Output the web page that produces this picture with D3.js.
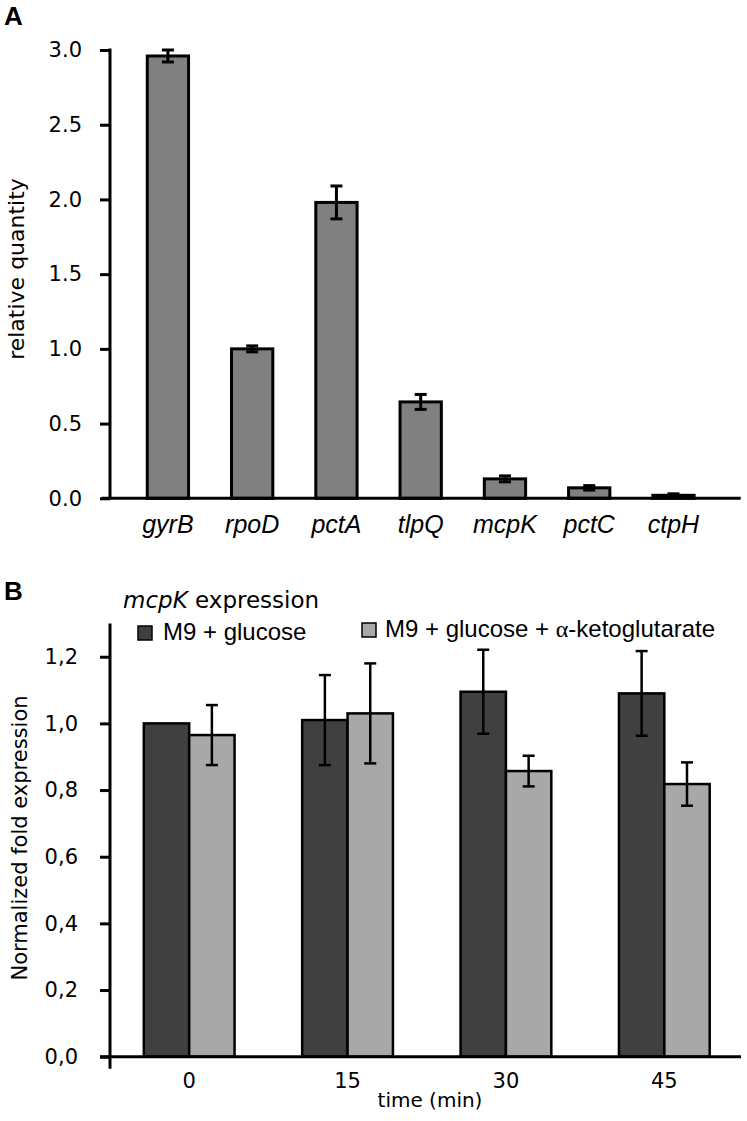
<!DOCTYPE html>
<meta charset="utf-8">
<style>
  body { margin: 0; background: #fff; }
  .tick text { font-family: "DejaVu Sans", sans-serif; font-size: 21px; fill: #000; }
  .tick line { stroke: #000; stroke-width: 3px; }
  .gene { font-family: "Liberation Sans", Arial, sans-serif; font-style: italic; font-size: 25px; }
  .title { font-family: "DejaVu Sans", sans-serif; fill: #000; }
  .legend { font-family: "Liberation Sans", Arial, sans-serif; font-size: 24px; }
  .panel { font-family: "Liberation Sans", Arial, sans-serif; font-weight: bold; font-size: 26px; }
</style>
<body>
<script src="https://cdnjs.cloudflare.com/ajax/libs/d3/7.8.5/d3.min.js"></script>
<script>
// panel A data
var genes = ["gyrB", "rpoD", "pctA", "tlpQ", "mcpK", "pctC", "ctpH"];
var relQuantity = [2.96, 1.00, 1.98, 0.645, 0.13, 0.07, 0.02];
var relQuantityErr = [0.04, 0.02, 0.11, 0.05, 0.02, 0.015, 0.01];
var ticksA = [0, 0.5, 1.0, 1.5, 2.0, 2.5, 3.0];

// panel B data
var times = ["0", "15", "30", "45"];
var seriesNames = ["M9 + glucose", "M9 + glucose + ", "-ketoglutarate"];
var glucose = [1.00, 1.01, 1.095, 1.09];
var glucoseErr = [0, 0.135, 0.126, 0.127];
var glucoseAkg = [0.965, 1.03, 0.857, 0.818];
var glucoseAkgErr = [0.09, 0.15, 0.046, 0.065];
var ticksB = [0, 0.2, 0.4, 0.6, 0.8, 1.0, 1.2];

var width = 747, height = 1121;
var axisX = 110;

var svg = d3.select("body").append("svg")
    .attr("width", width)
    .attr("height", height);

// ---------- Panel A ----------
var xA = d3.scaleBand().domain(genes).range([104.3, 737.1]).padding(0.51);
var yA = d3.scaleLinear().domain([0, 3]).range([498.3, 50]);

var gA = svg.append("g");

gA.selectAll("rect.bar")
    .data(genes)
  .enter().append("rect")
    .attr("class", "bar")
    .attr("x", function(d) { return xA(d); })
    .attr("width", xA.bandwidth())
    .attr("y", function(d, i) { return yA(relQuantity[i]); })
    .attr("height", function(d, i) { return yA(0) - yA(relQuantity[i]); })
    .style("fill", "#808080")
    .style("stroke", "#000")
    .style("stroke-width", 3);

var errA = gA.selectAll("g.err")
    .data(genes)
  .enter().append("g")
    .attr("class", "err")
    .style("stroke", "#000")
    .style("stroke-width", 3);
errA.append("line")
    .attr("x1", function(d) { return xA(d) + xA.bandwidth() / 2; })
    .attr("x2", function(d) { return xA(d) + xA.bandwidth() / 2; })
    .attr("y1", function(d, i) { return yA(relQuantity[i] + relQuantityErr[i]); })
    .attr("y2", function(d, i) { return yA(relQuantity[i] - relQuantityErr[i]); });
[1, -1].forEach(function(s) {
  errA.append("line")
      .attr("x1", function(d) { return xA(d) + xA.bandwidth() / 2 - 6; })
      .attr("x2", function(d) { return xA(d) + xA.bandwidth() / 2 + 6; })
      .attr("y1", function(d, i) { return yA(relQuantity[i] + s * relQuantityErr[i]); })
      .attr("y2", function(d, i) { return yA(relQuantity[i] + s * relQuantityErr[i]); });
});

gA.append("g")
    .attr("transform", "translate(" + axisX + ",0)")
    .call(d3.axisLeft(yA).tickValues(ticksA).tickSize(10).tickPadding(18)
      .tickFormat(d3.format(".1f")))
    .call(function(g) { g.select(".domain").remove(); });

gA.append("line")
    .attr("x1", axisX).attr("x2", axisX)
    .attr("y1", yA(3) - 1.5).attr("y2", yA(0))
    .style("stroke", "#000").style("stroke-width", 3);
gA.append("line")
    .attr("x1", 101.7).attr("x2", 740.7)
    .attr("y1", yA(0)).attr("y2", yA(0))
    .style("stroke", "#000").style("stroke-width", 3);

gA.selectAll("text.gene")
    .data(genes)
  .enter().append("text")
    .attr("class", "gene")
    .attr("x", function(d) { return xA(d) + xA.bandwidth() / 2; })
    .attr("y", 533)
    .attr("text-anchor", "middle")
    .text(function(d) { return d; });

gA.append("text")
    .attr("class", "title")
    .attr("transform", "translate(24," + 269 + ") rotate(-90)")
    .attr("text-anchor", "middle")
    .style("font-size", "22px")
    .text("relative quantity");

svg.append("text").attr("class", "panel").attr("x", 4).attr("y", 25).text("A");

// ---------- Panel B ----------
var xB = d3.scaleBand().domain(times).range([110, 743.5]).paddingInner(0.427).paddingOuter(0.2135);
var xSub = d3.scaleBand().domain([0, 1]).range([0, xB.bandwidth()]);
var yB = d3.scaleLinear().domain([0, 1.3]).range([1056.7, 623.4]);

var series = [
  { vals: glucose, err: glucoseErr, color: "#404040" },
  { vals: glucoseAkg, err: glucoseAkgErr, color: "#a8a8a8" }
];

var gB = svg.append("g");

series.forEach(function(s, k) {
  gB.selectAll("rect.s" + k)
      .data(times)
    .enter().append("rect")
      .attr("class", "s" + k)
      .attr("x", function(d) { return xB(d) + xSub(k); })
      .attr("width", xSub.bandwidth())
      .attr("y", function(d, i) { return yB(s.vals[i]); })
      .attr("height", function(d, i) { return yB(0) - yB(s.vals[i]); })
      .style("fill", s.color)
      .style("stroke", "#000")
      .style("stroke-width", 2.5);
});

series.forEach(function(s, k) {
  var eb = gB.selectAll("g.e" + k)
      .data(times.filter(function(d, i) { return s.err[i] > 0; }))
    .enter().append("g")
      .attr("class", "e" + k)
      .style("stroke", "#000")
      .style("stroke-width", 2.5);
  function cx(d) { return xB(d) + xSub(k) + xSub.bandwidth() / 2; }
  function idx(d) { return times.indexOf(d); }
  eb.append("line")
      .attr("x1", cx).attr("x2", cx)
      .attr("y1", function(d) { return yB(s.vals[idx(d)] + s.err[idx(d)]); })
      .attr("y2", function(d) { return yB(s.vals[idx(d)] - s.err[idx(d)]); });
  [1, -1].forEach(function(sg) {
    eb.append("line")
        .attr("x1", function(d) { return cx(d) - 6; })
        .attr("x2", function(d) { return cx(d) + 6; })
        .attr("y1", function(d) { return yB(s.vals[idx(d)] + sg * s.err[idx(d)]); })
        .attr("y2", function(d) { return yB(s.vals[idx(d)] + sg * s.err[idx(d)]); });
  });
});

gB.append("g")
    .attr("transform", "translate(" + axisX + ",0)")
    .call(d3.axisLeft(yB).tickValues(ticksB).tickSize(10).tickPadding(22)
      .tickFormat(function(d) { return d.toFixed(1).replace(".", ","); }))
    .call(function(g) { g.select(".domain").remove(); });

gB.append("line")
    .attr("x1", axisX).attr("x2", axisX)
    .attr("y1", yB(1.3)).attr("y2", yB(0) + 12)
    .style("stroke", "#000").style("stroke-width", 3);
gB.append("line")
    .attr("x1", 100).attr("x2", 741)
    .attr("y1", yB(0)).attr("y2", yB(0))
    .style("stroke", "#000").style("stroke-width", 3);

gB.selectAll("text.time")
    .data(times)
  .enter().append("text")
    .attr("class", "title")
    .attr("x", function(d) { return xB(d) + xB.bandwidth() / 2; })
    .attr("y", 1088)
    .attr("text-anchor", "middle")
    .style("font-size", "21px")
    .text(function(d) { return d; });

gB.append("text")
    .attr("class", "title")
    .attr("x", 430).attr("y", 1107)
    .attr("text-anchor", "middle")
    .style("font-size", "20px")
    .text("time (min)");

gB.append("text")
    .attr("class", "title")
    .attr("transform", "translate(27,838) rotate(-90)")
    .attr("text-anchor", "middle")
    .style("font-size", "21px")
    .text("Normalized fold expression");

var head = gB.append("text")
    .attr("class", "title")
    .attr("x", 123).attr("y", 608)
    .style("font-size", "23px");
head.append("tspan").style("font-style", "italic").text("mcpK");
head.append("tspan").text(" expression");

// legend
gB.append("rect").attr("x", 138).attr("y", 626).attr("width", 14).attr("height", 14)
    .style("fill", series[0].color).style("stroke", "#000").style("stroke-width", 1.5);
gB.append("text").attr("class", "legend").attr("x", 163).attr("y", 640).text(seriesNames[0]);

gB.append("rect").attr("x", 362).attr("y", 623).attr("width", 14).attr("height", 14)
    .style("fill", series[1].color).style("stroke", "#000").style("stroke-width", 1.5);
var leg2 = gB.append("text").attr("class", "legend").attr("x", 385).attr("y", 637);
leg2.append("tspan").text(seriesNames[1]);
leg2.append("tspan").style("font-family", "'Liberation Serif', serif").text("α");
leg2.append("tspan").text(seriesNames[2]);

svg.append("text").attr("class", "panel").attr("x", 4).attr("y", 600).text("B");
</script>
</body>
</html>
